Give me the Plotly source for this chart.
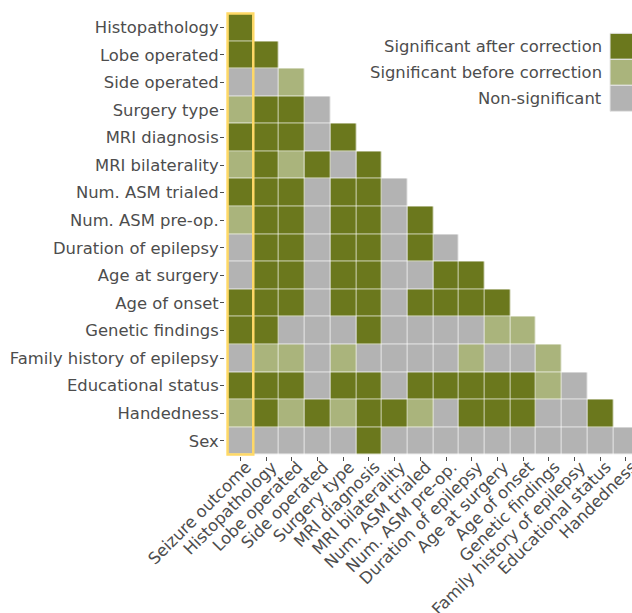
import numpy as np
import plotly.graph_objects as go

# Variables in the pairwise association matrix
col_labels = ["Seizure outcome", "Histopathology", "Lobe operated", "Side operated",
              "Surgery type", "MRI diagnosis", "MRI bilaterality", "Num. ASM trialed",
              "Num. ASM pre-op.", "Duration of epilepsy", "Age at surgery", "Age of onset",
              "Genetic findings", "Family history of epilepsy", "Educational status",
              "Handedness"]
row_labels = col_labels[1:] + ["Sex"]

# Significance level per pair: 2 = after correction, 1 = before correction, 0 = none
sig_rows = [
    [2],
    [2, 2],
    [0, 0, 1],
    [1, 2, 2, 0],
    [2, 2, 2, 0, 2],
    [1, 2, 1, 2, 0, 2],
    [2, 2, 2, 0, 2, 2, 0],
    [1, 2, 2, 0, 2, 2, 0, 2],
    [0, 2, 2, 0, 2, 2, 0, 2, 0],
    [0, 2, 2, 0, 2, 2, 0, 0, 2, 2],
    [2, 2, 2, 0, 2, 2, 0, 2, 2, 2, 2],
    [2, 2, 0, 0, 0, 2, 0, 0, 0, 0, 1, 1],
    [0, 1, 1, 0, 1, 0, 0, 0, 0, 1, 0, 0, 1],
    [2, 2, 2, 0, 2, 2, 0, 2, 2, 2, 2, 2, 1, 0],
    [1, 2, 1, 2, 1, 2, 2, 1, 0, 2, 2, 2, 0, 0, 2],
    [0, 0, 0, 0, 0, 2, 0, 0, 0, 0, 0, 0, 0, 0, 0, 0],
]

legend_labels = ["Significant after correction", "Significant before correction", "Non-significant"]

DARK = "#6B781D"
LIGHT = "#AAB47C"
GRAY = "#B3B3B3"
HIGHLIGHT = "#FFD966"
TEXT = "#4d4d4d"
FONT = "DejaVu Sans"
FS = 16.4

n = len(col_labels)
z = np.full((len(row_labels), n), np.nan)
for i, r in enumerate(sig_rows):
    z[i, :len(r)] = r

W, H = 632, 613
cell_w = 25.73
left = 224.6
top, bottom = 12, 157
x_lo = -0.6
x_hi = x_lo + (W - left) / cell_w

fig = go.Figure(go.Heatmap(
    z=z / 2.0,
    x=list(range(n)),
    y=list(range(len(row_labels))),
    zmin=0, zmax=1,
    colorscale=[[0, GRAY], [0.5, LIGHT], [1, DARK]],
    showscale=False,
    xgap=0.7, ygap=0.7,
    hoverinfo="skip",
))

# Highlight the outcome column
fig.add_shape(type="rect", xref="x", yref="y",
              x0=-0.5, x1=0.5, y0=-0.5, y1=len(row_labels) - 0.5,
              line=dict(color=HIGHLIGHT, width=2.5), fillcolor="rgba(0,0,0,0)")

# Legend: right-aligned labels with colour swatches
plot_w = W - left
plot_h = H - top - bottom


def px_x(x):
    return (x - left) / plot_w


def px_y(y):
    return 1 - (y - top) / plot_h


sw_top, sw_h = 33.3, 26
for k, (lab, col) in enumerate(zip(legend_labels, [DARK, LIGHT, GRAY])):
    y0 = sw_top + k * sw_h
    fig.add_shape(type="rect", xref="paper", yref="paper",
                  x0=px_x(610), x1=px_x(640), y0=px_y(y0 + sw_h), y1=px_y(y0),
                  fillcolor=col, line=dict(color="#e6e6e6", width=1), layer="above")
    fig.add_annotation(xref="paper", yref="paper", x=px_x(604), y=px_y(y0 + sw_h / 2),
                       text=lab, showarrow=False, xanchor="right", yanchor="middle",
                       font=dict(family=FONT, size=FS, color=TEXT))

fig.update_xaxes(
    range=[x_lo, x_hi], tickmode="array", tickvals=list(range(n)), ticktext=col_labels,
    tickangle=-45, ticks="outside", ticklen=4, tickcolor=TEXT, showgrid=False,
    zeroline=False, showline=False, tickfont=dict(family=FONT, size=FS, color=TEXT),
    ticklabeloverflow="allow", ticklabelshift=6, ticklabelstandoff=-10,
)
fig.update_yaxes(
    range=[len(row_labels) - 0.45, -0.55], tickmode="array",
    tickvals=list(range(len(row_labels))), ticktext=row_labels,
    ticks="outside", ticklen=4, tickcolor=TEXT, showgrid=False, zeroline=False,
    showline=False, tickfont=dict(family=FONT, size=FS, color=TEXT),
    ticklabelstandoff=-2,
)
fig.update_layout(
    width=W, height=H,
    margin=dict(l=left, r=0, t=top, b=bottom, autoexpand=False),
    plot_bgcolor="white", paper_bgcolor="white",
    font=dict(family=FONT, color=TEXT),
)

fig.write_html("out.html")
